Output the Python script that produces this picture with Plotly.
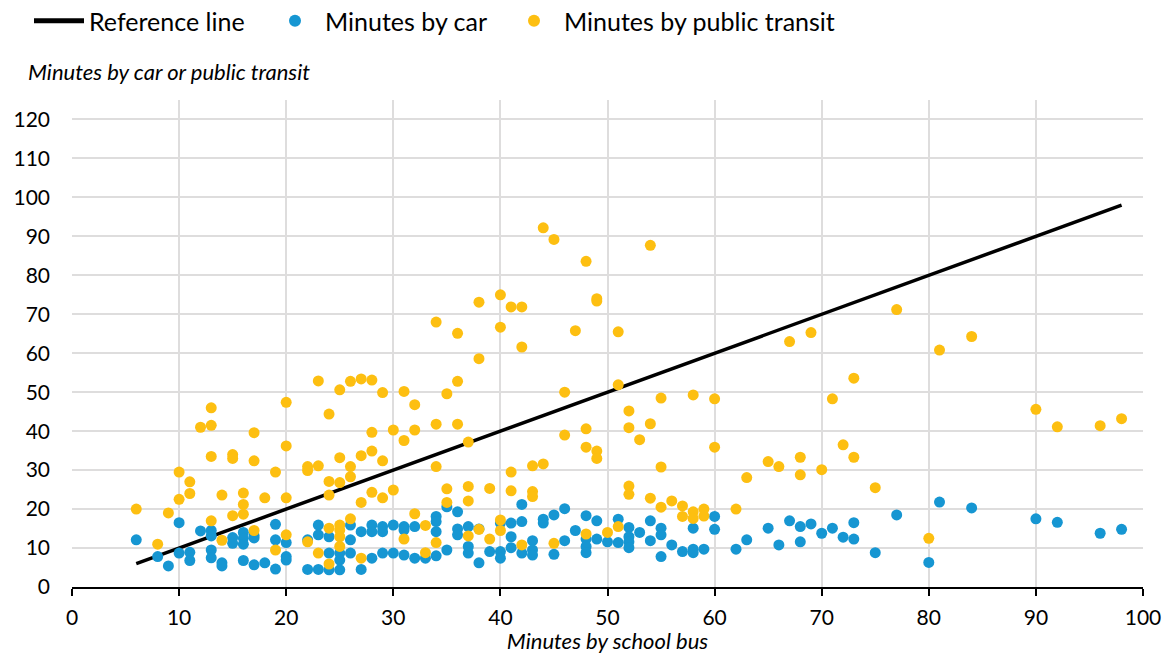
import plotly.graph_objects as go

# Bus travel time for each school (x) and the matching car / transit times (y)
car_bus = [6, 8, 9, 10, 10, 11, 11, 12, 13, 13, 13, 13, 14, 14, 15, 15, 16, 16, 16, 16,
           17, 17, 17, 18, 19, 19, 19, 20, 20, 20, 22, 22, 23, 23, 23, 24, 24, 24,
           25, 25, 25, 26, 26, 26, 27, 27, 28, 28, 28, 29, 29, 29, 30, 30, 31, 31, 31,
           32, 32, 33, 34, 34, 34, 34, 35, 35, 36, 36, 36, 37, 37, 37, 38, 38, 39,
           40, 40, 40, 41, 41, 41, 42, 42, 42, 43, 43, 43, 44, 44, 45, 45, 46, 46, 47,
           48, 48, 48, 48, 49, 49, 50, 51, 51, 52, 52, 52, 52, 53, 54, 54, 55, 55, 55,
           56, 57, 58, 58, 58, 59, 60, 60, 62, 63, 65, 66, 67, 68, 68, 69, 70, 71, 72,
           73, 73, 75, 77, 80, 81, 84, 90, 92, 96, 98]
car_minutes = [12.1, 7.8, 5.4, 16.5, 8.7, 8.9, 6.8, 14.4, 14.5, 13.1, 9.5, 7.5, 6.2, 5.4,
               12.7, 11.2, 14.0, 12.5, 11.0, 6.8, 13.2, 12.6, 5.7, 6.2, 16.1, 12.1, 4.6,
               11.4, 7.8, 6.9, 12.1, 4.5, 15.9, 13.4, 4.5, 12.9, 8.7, 4.4,
               8.7, 6.9, 4.4, 15.9, 12.1, 8.7, 14.2, 4.5, 15.9, 14.2, 7.4, 15.5, 14.2, 8.7,
               15.9, 8.7, 15.5, 14.6, 8.2, 15.5, 7.4, 7.4, 18.1, 16.8, 14.2, 8.0, 20.6, 9.5,
               19.3, 14.9, 13.4, 15.5, 10.4, 8.7, 14.9, 6.2, 9.1,
               16.4, 9.1, 7.4, 16.4, 12.9, 10.1, 21.2, 16.8, 8.7, 11.9, 9.5, 8.2, 17.4, 16.4,
               18.5, 8.4, 20.1, 11.9, 14.5, 18.3, 12.3, 10.4, 8.8, 17.0, 12.3, 11.6, 17.4,
               11.4, 15.3, 12.9, 11.6, 10.1, 14.0, 17.0, 11.9, 15.1, 13.4, 7.8,
               10.8, 9.1, 15.1, 9.7, 8.8, 9.7, 18.1, 14.8, 9.7, 12.1, 15.1, 10.8, 17.0, 15.5,
               11.6, 16.2, 13.8, 15.1, 12.8, 16.5, 12.3, 8.8, 18.5, 6.3, 21.8, 20.3, 17.5,
               16.6, 13.8, 14.8]

transit_bus = [6, 8, 9, 10, 10, 11, 11, 12, 13, 13, 13, 13, 14, 14, 15, 15, 15, 16, 16, 16,
               17, 17, 17, 18, 19, 19, 20, 20, 20, 20, 22, 22, 22, 23, 23, 23,
               24, 24, 24, 24, 24, 25, 25, 25, 25, 25, 25, 25, 26, 26, 26, 26,
               27, 27, 27, 27, 28, 28, 28, 28, 29, 29, 29, 30, 30, 31, 31, 31, 32, 32, 32,
               33, 33, 34, 34, 34, 34, 35, 35, 35, 36, 36, 36, 37, 37, 37, 37, 38, 38, 38,
               39, 39, 40, 40, 40, 40, 41, 41, 41, 42, 42, 42, 43, 43, 43, 44, 44, 45, 45,
               46, 46, 47, 48, 48, 48, 48, 49, 49, 49, 49, 50, 51, 51, 51, 52, 52, 52, 52,
               53, 54, 54, 54, 55, 55, 55, 56, 57, 57, 58, 58, 58, 59, 59, 60, 60, 62, 63,
               65, 66, 67, 68, 68, 69, 70, 71, 72, 73, 73, 75, 77, 80, 81, 84, 90, 92, 96, 98]
transit_minutes = [20.0, 11.0, 19.0, 29.5, 22.5, 27.0, 24.0, 41.0, 46.0, 41.5, 33.5, 17.0,
                   23.6, 12.0, 34.0, 33.0, 18.3, 24.1, 21.2, 18.7, 39.6, 32.4, 14.5, 22.9,
                   29.5, 9.5, 47.4, 36.2, 22.9, 13.4, 30.9, 29.9, 11.6, 52.9, 31.1, 8.7,
                   44.4, 27.1, 23.6, 15.1, 5.9, 50.6, 33.2, 26.8, 15.9, 14.6, 12.9, 10.4,
                   52.8, 30.9, 28.3, 17.5, 53.4, 33.7, 21.7, 7.4, 53.1, 39.7, 34.9, 24.3,
                   49.9, 32.4, 22.9, 40.3, 24.9, 50.2, 37.6, 12.3, 46.8, 40.3, 18.8,
                   15.8, 8.8, 68.0, 41.8, 30.9, 11.4, 49.6, 25.2, 21.7, 65.1, 52.8, 41.8,
                   37.2, 25.8, 22.1, 13.1, 73.1, 58.6, 14.8, 25.3, 12.3, 75.0, 66.7, 17.2,
                   14.5, 71.9, 29.5, 24.7, 71.9, 61.6, 10.8, 31.1, 24.5, 23.2, 92.2, 31.6,
                   89.2, 11.2, 50.0, 39.0, 65.8, 83.6, 40.6, 35.9, 13.6, 74.0, 73.4, 34.9,
                   33.0, 14.0, 65.5, 51.9, 15.5, 45.2, 40.9, 25.9, 23.8, 37.8, 87.7, 41.9,
                   22.8, 48.5, 30.8, 20.5, 22.1, 20.8, 18.1, 49.3, 19.3, 17.6, 20.0, 18.2,
                   48.3, 35.9, 20.0, 28.1, 32.2, 30.9, 63.0, 33.3, 28.8, 65.3, 30.1, 48.3,
                   36.5, 53.6, 33.3, 25.5, 71.2, 12.5, 60.8, 64.3, 45.6, 41.1, 41.4, 43.2]

# Equal-time reference line
ref_x = [6, 98]
ref_y = [6, 98]

BLUE = "#1696d2"
YELLOW = "#fdbf11"
FONT = "Lato, 'Open Sans', sans-serif"
W, H = 1168, 654

fig = go.Figure()
fig.add_trace(go.Scatter(x=ref_x, y=ref_y, mode="lines", name="Reference line",
                         line=dict(color="#000000", width=3.5), legend="legend",
                         showlegend=True))
fig.add_trace(go.Scatter(x=car_bus, y=car_minutes, mode="markers", name="Minutes by car",
                         marker=dict(color=BLUE, size=11), legend="legend2",
                         showlegend=True))
fig.add_trace(go.Scatter(x=transit_bus, y=transit_minutes, mode="markers",
                         name="Minutes by public transit",
                         marker=dict(color=YELLOW, size=11), legend="legend3",
                         showlegend=True))


def legend_box(left_px):
    # one legend entry placed along the top strip of the figure
    return dict(orientation="h", xref="container", x=left_px / W, xanchor="left",
                yref="container", y=1 - 21 / H, yanchor="middle",
                font=dict(size=25), itemsizing="constant", itemwidth=50,
                bgcolor="rgba(0,0,0,0)", visible=True)


fig.update_layout(
    width=W, height=H,
    showlegend=True,
    margin=dict(l=72, r=25, t=100, b=67),
    paper_bgcolor="white", plot_bgcolor="white",
    font=dict(family=FONT, color="#000000", size=21),
    legend=legend_box(29), legend2=legend_box(265), legend3=legend_box(504),
    xaxis=dict(range=[0, 100], dtick=10, showgrid=True, gridcolor="#dedddd", gridwidth=1.5,
               zeroline=False, showline=True, linecolor="#000000", linewidth=2,
               ticks="outside", ticklen=7, tickcolor="#000000", tickwidth=1.5,
               tickfont=dict(size=21), ticklabelstandoff=4, automargin=False,
               title=dict(text="Minutes by school bus",
                          font=dict(size=22, style="italic"), standoff=1)),
    yaxis=dict(range=[0, 125], tickvals=list(range(0, 121, 10)), showgrid=True,
               gridcolor="#dedddd", gridwidth=1.5, zeroline=False, showline=False,
               ticks="", tickfont=dict(size=21), ticklabelstandoff=21, automargin=False),
    annotations=[dict(text="Minutes by car or public transit", xref="paper", yref="paper",
                      x=-0.0425, y=1.0575, xanchor="left", yanchor="middle", showarrow=False,
                      font=dict(size=22, style="italic"))],
)

fig.write_html("out.html")
